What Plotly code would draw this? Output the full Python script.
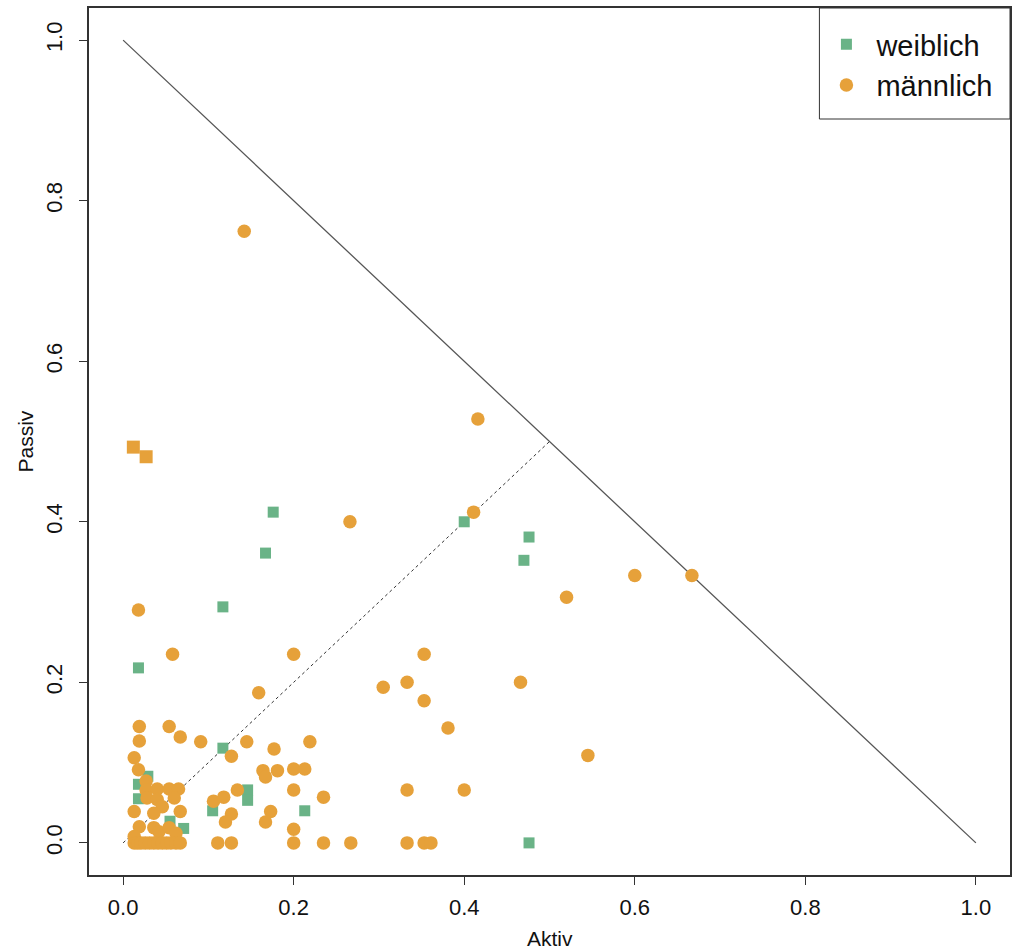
import plotly.graph_objects as go

# weiblich (green squares)
w_aktiv  = [0.476, 0.470, 0.400, 0.176, 0.167, 0.117, 0.018, 0.117, 0.146, 0.146, 0.105, 0.213, 0.476,
            0.029, 0.018, 0.018, 0.055, 0.071]
w_passiv = [0.381, 0.352, 0.400, 0.412, 0.361, 0.294, 0.218, 0.118, 0.066, 0.053, 0.040, 0.040, 0.000,
            0.083, 0.073, 0.055, 0.027, 0.018]

# männlich (orange circles)
m_aktiv  = [0.142, 0.416, 0.411, 0.266, 0.600, 0.667, 0.520, 0.018, 0.058, 0.200, 0.353, 0.305, 0.333,
            0.466, 0.159, 0.353, 0.381, 0.545, 0.400, 0.333,
            0.333, 0.353, 0.361, 0.267, 0.235, 0.200, 0.127, 0.111,
            0.091, 0.145, 0.219, 0.127, 0.177, 0.164, 0.167, 0.181, 0.200, 0.213, 0.134, 0.200, 0.235,
            0.106, 0.118, 0.127, 0.120, 0.173, 0.167, 0.200,
            0.019, 0.054, 0.019, 0.067, 0.013, 0.018, 0.027, 0.027, 0.040, 0.054, 0.065, 0.028, 0.040,
            0.060, 0.046, 0.013, 0.036, 0.067, 0.019, 0.036, 0.042, 0.054, 0.062, 0.013,
            0.013, 0.017, 0.021, 0.026, 0.031, 0.036, 0.041, 0.046, 0.051, 0.056, 0.062, 0.067]
m_passiv = [0.762, 0.528, 0.412, 0.400, 0.333, 0.333, 0.306, 0.290, 0.235, 0.235, 0.235, 0.194, 0.200,
            0.200, 0.187, 0.177, 0.143, 0.109, 0.066, 0.066,
            0.000, 0.000, 0.000, 0.000, 0.000, 0.000, 0.000, 0.000,
            0.126, 0.126, 0.126, 0.108, 0.117, 0.090, 0.082, 0.090, 0.092, 0.092, 0.066, 0.066, 0.057,
            0.052, 0.057, 0.036, 0.026, 0.039, 0.026, 0.017,
            0.145, 0.145, 0.127, 0.132, 0.106, 0.091, 0.077, 0.066, 0.067, 0.067, 0.067, 0.056, 0.054,
            0.056, 0.045, 0.039, 0.037, 0.039, 0.020, 0.019, 0.014, 0.019, 0.012, 0.008,
            0.000, 0.000, 0.000, 0.000, 0.000, 0.000, 0.000, 0.000, 0.000, 0.000, 0.000, 0.000]

# männlich points drawn as orange squares (upper left)
mq_aktiv  = [0.012, 0.027]
mq_passiv = [0.493, 0.481]

# reference lines
diag_x = [0.0, 1.0]
diag_y = [1.0, 0.0]
half_x = [0.0, 0.5]
half_y = [0.0, 0.5]

tick_vals = [0.0, 0.2, 0.4, 0.6, 0.8, 1.0]
tick_text = ["0.0", "0.2", "0.4", "0.6", "0.8", "1.0"]

GREEN = "#6AB387"
ORANGE = "#E6A13A"
FONT = "Liberation Sans, Arial, Helvetica, sans-serif"

fig = go.Figure()
fig.add_trace(go.Scatter(x=diag_x, y=diag_y, mode="lines", line=dict(color="#555555", width=1.3),
                         showlegend=False, hoverinfo="skip"))
fig.add_trace(go.Scatter(x=half_x, y=half_y, mode="lines", line=dict(color="#333333", width=1, dash="dot"),
                         showlegend=False, hoverinfo="skip"))
fig.add_trace(go.Scatter(x=w_aktiv, y=w_passiv, mode="markers", name="weiblich",
                         marker=dict(symbol="square", size=11, color=GREEN)))
fig.add_trace(go.Scatter(x=m_aktiv, y=m_passiv, mode="markers", name="männlich",
                         marker=dict(symbol="circle", size=13.5, color=ORANGE)))
fig.add_trace(go.Scatter(x=mq_aktiv, y=mq_passiv, mode="markers", name="männlich",
                         marker=dict(symbol="square", size=13, color=ORANGE), showlegend=False))

axis_common = dict(showgrid=False, zeroline=False, showline=True, mirror=True,
                   linecolor="#333333", linewidth=1.5, ticks="outside", ticklen=8,
                   tickwidth=1.2, tickcolor="#333333", tickvals=tick_vals, ticktext=tick_text,
                   tickfont=dict(family=FONT, size=22, color="#111111"))

# legend box geometry (paper coords of plot area)
PLOT_W = 1013 - 89 - 1
PLOT_H = 952 - 8 - 77
box_x0 = (821 - 89) / PLOT_W
box_y0 = (875 - 119) / PLOT_H

fig.update_layout(
    width=1013, height=952,
    margin=dict(l=89, r=1, t=8, b=77),
    paper_bgcolor="white", plot_bgcolor="white",
    xaxis=dict(range=[-0.04, 1.04], ticklabelstandoff=4, **axis_common),
    yaxis=dict(range=[-0.04, 1.04], tickangle=-90, ticklabelstandoff=8, **axis_common),
    showlegend=True,
    legend=dict(x=box_x0 - 3 / PLOT_W, y=1 - 11 / PLOT_H, xanchor="left", yanchor="top",
                bgcolor="rgba(0,0,0,0)", borderwidth=0, itemwidth=50,
                font=dict(family=FONT, size=29, color="#111111"),
                itemsizing="trace"),
    shapes=[dict(type="rect", xref="paper", yref="paper", x0=box_x0, x1=1, y0=box_y0, y1=1,
                 line=dict(color="#333333", width=1), fillcolor="white", layer="above")],
    annotations=[
        dict(text="Aktiv", x=0.5, y=0, xref="paper", yref="paper", yanchor="middle",
             yshift=-63, showarrow=False, font=dict(family=FONT, size=21, color="#111111")),
        dict(text="Passiv", x=0, y=0.5, xref="paper", yref="paper", xanchor="center",
             xshift=-64, textangle=-90, showarrow=False,
             font=dict(family=FONT, size=21, color="#111111")),
    ],
)

fig.write_html("out.html")
